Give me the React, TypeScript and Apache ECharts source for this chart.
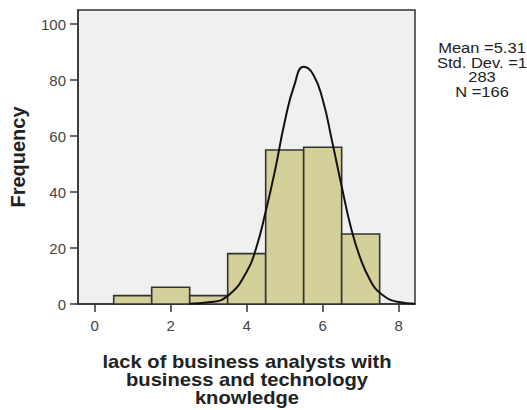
import React, { useEffect, useRef } from "react";
import * as echarts from "echarts";

// Histogram bins (bin centre) and frequencies
const binCenters = [1, 2, 3, 4, 5, 6, 7];
const frequencies = [3, 6, 3, 18, 55, 56, 25];
const binWidth = 1;

// Normal curve points
const curveX = [2.5, 3.0, 3.5, 4.0, 4.25, 4.5, 4.75, 5.0, 5.25, 5.5, 5.75, 6.0, 6.25, 6.5, 6.75, 7.0, 7.25, 7.5, 8.0, 8.43];
const curveY = [0.1, 0.6, 2.9, 11.5, 20, 33, 48, 65, 78, 84.7, 82, 73, 58, 42, 27, 16, 8.5, 4, 0.7, 0.1];

const xTicks = [0, 2, 4, 6, 8];
const yTicks = [0, 20, 40, 60, 80, 100];

const statsLines = ["Mean =5.31", "Std. Dev. =1", "283", "N =166"];
const xTitleLines = ["lack of business analysts with", "business and technology", "knowledge"];
const yTitle = "Frequency";

const FONT = "'Liberation Sans', Arial, sans-serif";

export default function App() {
  const ref = useRef<HTMLDivElement>(null);
  useEffect(() => {
    if (!ref.current) return;
    const chart = echarts.init(ref.current, undefined, { renderer: "svg" });
    const barData = binCenters.map((c, i) => [c - binWidth / 2, c + binWidth / 2, frequencies[i]]);
    const curveData = curveX.map((x, i) => [x, curveY[i]]);
    chart.setOption({
      animation: false,
      backgroundColor: "#ffffff",
      textStyle: { fontFamily: FONT },
      grid: {
        left: 78,
        top: 10,
        width: 337,
        height: 294,
        show: true,
        backgroundColor: "#f0f0f0",
        borderColor: "#333",
        borderWidth: 1.5,
        containLabel: false,
        outerBoundsMode: "none",
      },
      xAxis: {
        type: "value",
        min: -0.44,
        max: 8.43,
        axisLine: { show: true, onZero: false, lineStyle: { color: "#333", width: 1.5 } },
        axisTick: { show: true, length: 8, customValues: xTicks, lineStyle: { color: "#333", width: 1.5 } },
        axisLabel: { customValues: xTicks, margin: 14, color: "#444", fontSize: 15, fontFamily: FONT },
        splitLine: { show: false },
      },
      yAxis: {
        type: "value",
        min: 0,
        max: 105,
        axisLine: { show: true, onZero: false, lineStyle: { color: "#333", width: 1.5 } },
        axisTick: { show: true, length: 8, customValues: yTicks, lineStyle: { color: "#333", width: 1.5 } },
        axisLabel: { customValues: yTicks, margin: 12, color: "#444", fontSize: 15, fontFamily: FONT },
        splitLine: { show: false },
        name: yTitle,
        nameLocation: "middle",
        nameRotate: 90,
        nameGap: 50,
        nameTextStyle: { fontSize: 20, fontWeight: "bold", color: "#222", fontFamily: FONT },
      },
      series: [
        {
          type: "custom",
          data: barData,
          encode: { x: [0, 1], y: 2 },
          renderItem: (params: any, api: any) => {
            const p0 = api.coord([api.value(0), 0]);
            const p1 = api.coord([api.value(1), api.value(2)]);
            return {
              type: "rect",
              shape: { x: p0[0], y: p1[1], width: p1[0] - p0[0], height: p0[1] - p1[1] },
              style: { fill: "#d4d09a", stroke: "#333", lineWidth: 1.6 },
            };
          },
          z: 2,
        },
        {
          type: "line",
          data: curveData,
          smooth: true,
          showSymbol: false,
          lineStyle: { color: "#111", width: 2 },
          z: 3,
        },
      ],
      graphic: [
        {
          type: "text",
          x: 482,
          y: 41,
          scaleX: 1.18,
          style: {
            text: statsLines.join("\n"),
            fontSize: 14,
            lineHeight: 14.5,
            fill: "#222",
            align: "center",
            verticalAlign: "top",
            fontFamily: FONT,
          },
        },
        {
          type: "text",
          x: 247,
          y: 353,
          scaleX: 1.12,
          style: {
            text: xTitleLines.join("\n"),
            fontSize: 18,
            lineHeight: 18,
            fontWeight: "bold",
            fill: "#222",
            align: "center",
            verticalAlign: "top",
            fontFamily: FONT,
          },
        },
      ],
    });
    return () => chart.dispose();
  }, []);
  return <div ref={ref} style={{ position: "fixed", left: 0, top: 0, width: 527, height: 410 }} />;
}
